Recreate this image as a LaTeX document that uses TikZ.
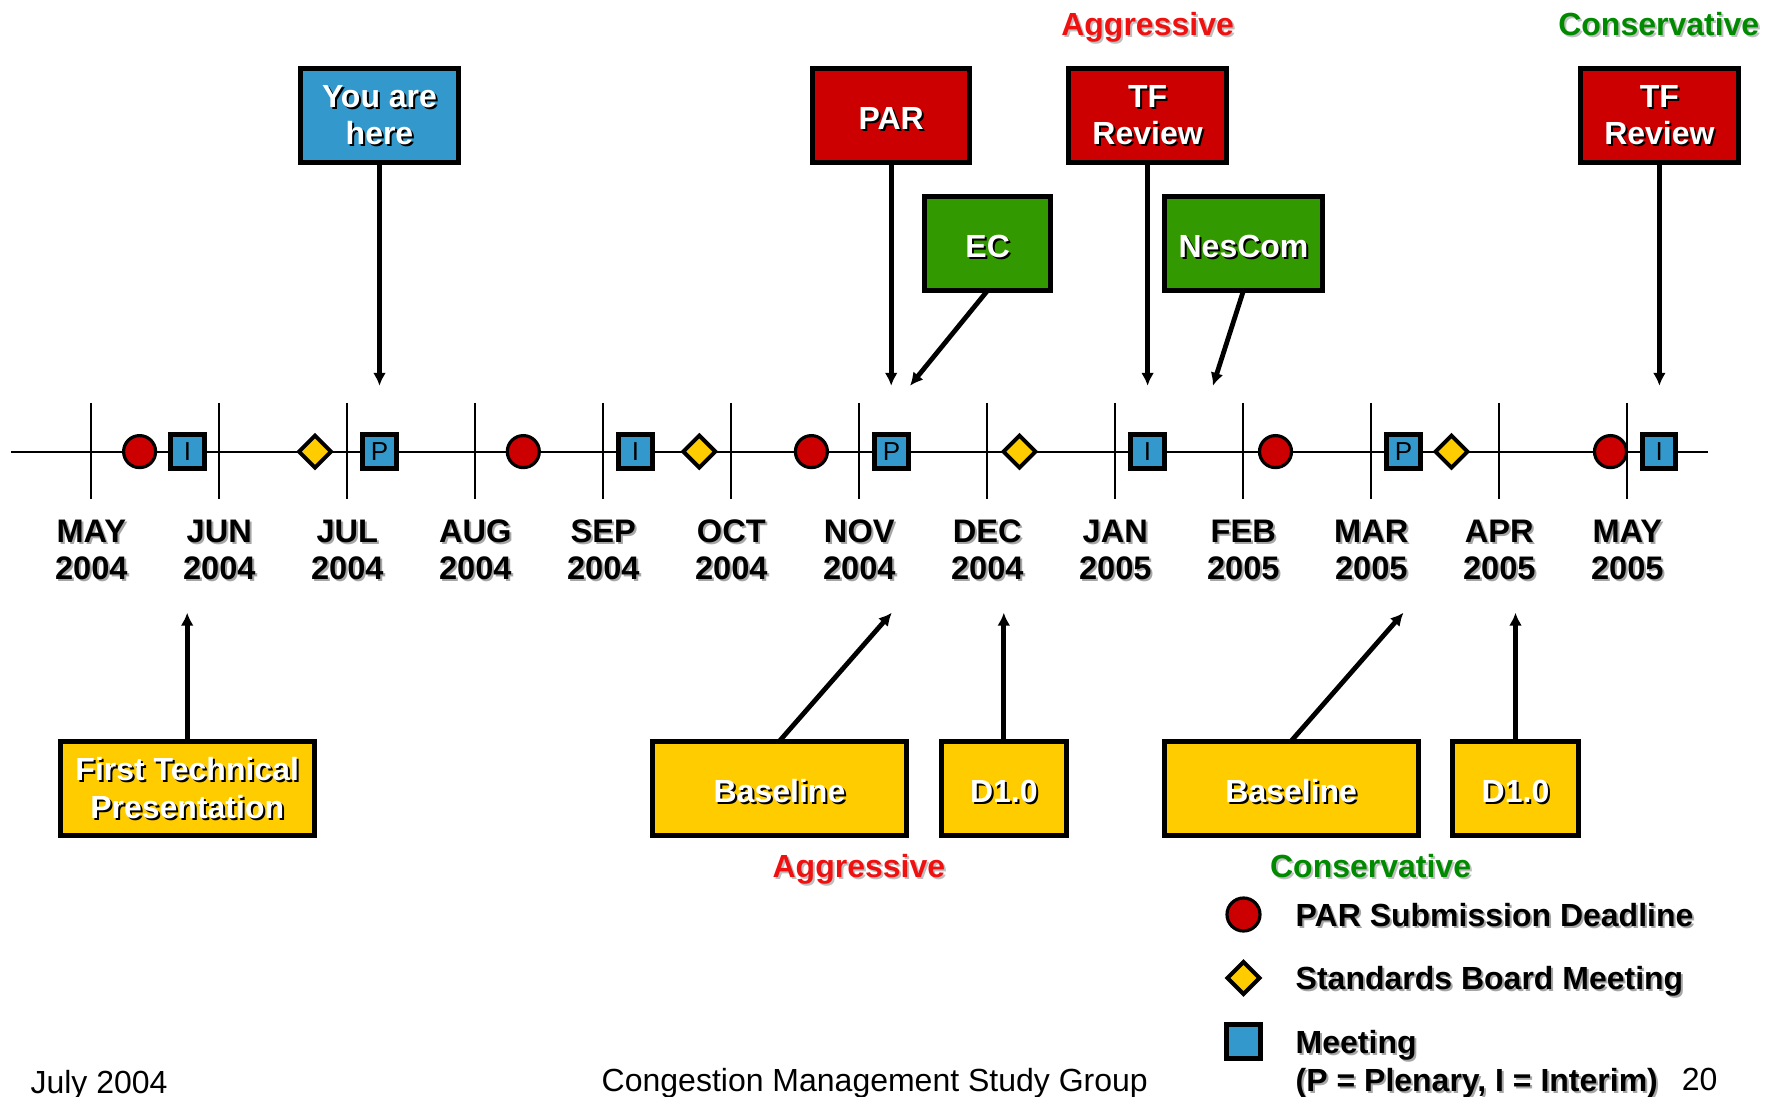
\documentclass[tikz,border=0pt]{standalone}
\usepackage{fontspec}
\setmainfont{Liberation Sans}
\usetikzlibrary{shapes.geometric,arrows.meta}
\definecolor{pred}{HTML}{CC0000}
\definecolor{pblue}{HTML}{3399CC}
\definecolor{pgreen}{HTML}{339900}
\definecolor{pyellow}{HTML}{FFCC00}
\definecolor{lblred}{HTML}{F01010}
\definecolor{lblgreen}{HTML}{008A00}
\newcommand\shtext[3]{\makebox[0pt][l]{\smash{\hspace{1pt}\raisebox{-1pt}{\textcolor{#1}{#3}}}}\textcolor{#2}{#3}}
\newcommand\shw[1]{\shtext{black}{white}{#1}}
\newcommand\shk[1]{\shtext{black!35}{black}{#1}}
\begin{document}
\begin{tikzpicture}[x=0.5pt,y=-0.5pt,
  every node/.style={inner sep=0pt, outer sep=0pt},
  box/.style={draw=black, line width=2.5pt, align=center, minimum height=47pt,
    font=\fontsize{16}{18.7}\selectfont\bfseries,
    execute at begin node={\rule{0pt}{14.2pt}}},
  wide/.style={box, minimum width=78.7pt},
  narrow/.style={box, minimum width=62.8pt},
  long/.style={box, minimum width=126.8pt},
  conn/.style={line width=2.4pt, -{Latex[length=6.5pt,width=6.5pt]}},
  pcirc/.style={circle, draw=black, fill=pred, line width=1.6pt, minimum size=16pt},
  meet/.style={rectangle, draw=black, fill=pblue, line width=2.5pt, minimum size=16.7pt,
    font=\fontsize{13}{13}\selectfont},
  sbm/.style={diamond, draw=black, fill=pyellow, line width=2pt, minimum size=16pt},
  month/.style={align=center, font=\fontsize{16.3}{18.5}\selectfont\bfseries},
  capnode/.style={text height=11.5pt, text depth=0pt},
  lbl/.style={capnode, font=\fontsize{16}{18}\selectfont\bfseries},
  foot/.style={capnode, font=\fontsize{16}{18}\selectfont}
]
\useasboundingbox (0,0) rectangle (1779,1097);
% timeline
\draw[line width=1pt] (11,451.6) -- (1708,451.6);
\foreach \i/\m/\y in {0/MAY/2004,1/JUN/2004,2/JUL/2004,3/AUG/2004,4/SEP/2004,5/OCT/2004,6/NOV/2004,7/DEC/2004,8/JAN/2005,9/FEB/2005,10/MAR/2005,11/APR/2005,12/MAY/2005}{
  \draw[line width=1pt] ({91.3+128*\i},403) -- ({91.3+128*\i},499);
  \node[month] (mon\i) at ({91.3+128*\i},549.5) {\shk{\m}\\\shk{\y}};
}
% markers
\node[pcirc] (c1) at (139.6,451.6) {};
\node[pcirc] (c2) at (523.3,451.6) {};
\node[pcirc] (c3) at (811.4,451.6) {};
\node[pcirc] (c4) at (1275.5,451.6) {};
\node[pcirc] (c5) at (1610.5,451.6) {};
\node[meet] (i1) at (187.4,451.6) {I};
\node[meet] (p1) at (379.5,451.6) {P};
\node[meet] (i2) at (635.5,451.6) {I};
\node[meet] (p2) at (891.6,451.6) {P};
\node[meet] (i3) at (1147.5,451.6) {I};
\node[meet] (p3) at (1403.5,451.6) {P};
\node[meet] (i4) at (1659.2,451.6) {I};
\node[sbm] (d1) at (315,451.6) {};
\node[sbm] (d2) at (699.3,451.6) {};
\node[sbm] (d3) at (1019.5,451.6) {};
\node[sbm] (d4) at (1451.5,451.6) {};
% top boxes
\node[wide, fill=pblue] (you) at (379.5,115.2) {\shw{You are}\\\shw{here}};
\node[wide, fill=pred] (par) at (891.2,115.2) {\shw{PAR}};
\node[narrow, fill=pgreen] (ec) at (987.7,243.4) {\shw{EC}};
\node[wide, fill=pred] (tfa) at (1147.6,115.2) {\shw{TF}\\\shw{Review}};
\node[box, minimum width=79.2pt, fill=pgreen] (nes) at (1243.5,243.4) {\shw{NesCom}};
\node[wide, fill=pred] (tfc) at (1659.4,115.2) {\shw{TF}\\\shw{Review}};
\node[lbl] (aggtop) at (1147.6,23.8) {\shtext{black!25}{lblred}{Aggressive}};
\node[lbl] (contop) at (1658.8,23.8) {\shtext{black!25}{lblgreen}{Conservative}};
% bottom boxes
\node[long, fill=pyellow] (ftp) at (187.2,788) {\shw{First Technical}\\\shw{Presentation}};
\node[long, fill=pyellow] (basea) at (779.5,788) {\shw{Baseline}};
\node[narrow, fill=pyellow] (d1a) at (1003.8,788) {\shw{D1.0}};
\node[long, fill=pyellow] (basec) at (1291.2,788) {\shw{Baseline}};
\node[narrow, fill=pyellow] (d1c) at (1515.5,788) {\shw{D1.0}};
\node[lbl] (aggbot) at (858.9,865.7) {\shtext{black!25}{lblred}{Aggressive}};
\node[lbl] (conbot) at (1370.6,865.7) {\shtext{black!25}{lblgreen}{Conservative}};
% arrow end points
\coordinate (tyou) at (379.5,385.8);
\coordinate (tpar) at (891.2,385.8);
\coordinate (tec) at (910,385.8);
\coordinate (ttfa) at (1147.6,385.8);
\coordinate (tnes) at (1212.9,385.8);
\coordinate (ttfc) at (1659.4,385.8);
\coordinate (tftp) at (187.2,612.7);
\coordinate (tbasea) at (891.8,612.7);
\coordinate (td1a) at (1003.8,612.7);
\coordinate (tbasec) at (1403.5,612.7);
\coordinate (td1c) at (1515.5,612.7);
% connectors
\draw[conn] (you.south) -- (tyou);
\draw[conn] (par.south) -- (tpar);
\draw[conn] (ec.south) -- (tec);
\draw[conn] (tfa.south) -- (ttfa);
\draw[conn] (nes.south) -- (tnes);
\draw[conn] (tfc.south) -- (ttfc);
\draw[conn] (ftp.north) -- (tftp);
\draw[conn] (basea.north) -- (tbasea);
\draw[conn] (d1a.north) -- (td1a);
\draw[conn] (basec.north) -- (tbasec);
\draw[conn] (d1c.north) -- (td1c);
% legend
\node[pcirc, minimum size=16.5pt] (lc) at (1243.5,914.5) {};
\node[sbm] (ld) at (1243.5,978) {};
\node[meet] (lm) at (1243.5,1041.5) {};
\node[lbl, anchor=west] (lct) at (1295.7,914.5) {\shk{PAR Submission Deadline}};
\node[lbl, anchor=west] (ldt) at (1295.7,978) {\shk{Standards Board Meeting}};
\node[lbl, anchor=west] (lmt) at (1295.7,1041.5) {\shk{Meeting}};
\node[lbl, anchor=west] (lmt2) at (1295.7,1080) {\shk{(P = Plenary, I = Interim)}};
% footer
\node[foot, anchor=west] (date) at (30.6,1082.4) {July 2004};
\node[foot] (title) at (874.8,1080) {Congestion Management Study Group};
\node[foot] (page) at (1699.6,1079) {20};
\end{tikzpicture}
\end{document}
